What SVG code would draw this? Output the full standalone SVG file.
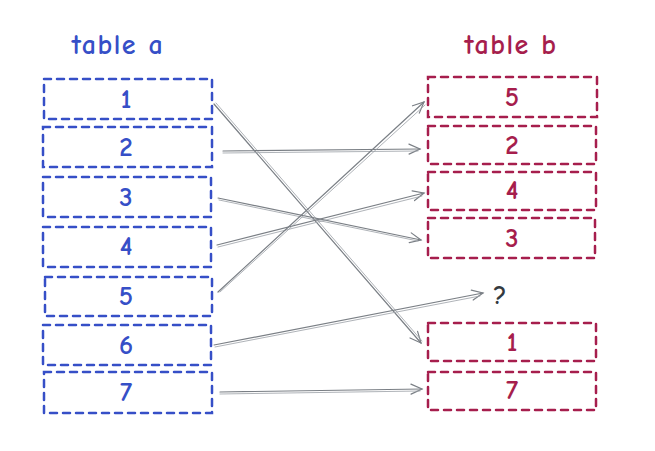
<svg xmlns="http://www.w3.org/2000/svg" width="655" height="451" viewBox="0 0 655 451">
<defs>
<style>
.ba{fill:none;stroke:#364fc7;stroke-width:2.5;stroke-dasharray:7 6;stroke-linecap:round}
.bb{fill:none;stroke:#a61e4d;stroke-width:2.5;stroke-dasharray:7 6;stroke-linecap:round}
.ta{fill:#364fc7;font-family:"Comic Neue","Liberation Sans",sans-serif;font-size:27px;font-weight:bold;text-anchor:middle}
.tb{fill:#a61e4d;font-family:"Comic Neue","Liberation Sans",sans-serif;font-size:27px;font-weight:bold;text-anchor:middle}
.h{font-size:28px;letter-spacing:1.5px}
.tq{fill:#343a40;font-family:"Comic Neue","Liberation Sans",sans-serif;font-size:26px;font-weight:bold;text-anchor:middle}
.ar{fill:none;stroke:#7a7f85;stroke-width:1.2;stroke-linecap:round;marker-end:url(#ah)}
.ar2{fill:none;stroke:#9aa0a6;stroke-width:0.8;stroke-linecap:round}
</style>
<marker id="ah" viewBox="-12 -6 14 12" refX="0" refY="0" markerWidth="14" markerHeight="12" markerUnits="userSpaceOnUse" orient="auto">
<path d="M-11,-5 L0,0 L-11,5" fill="none" stroke="#7a7f85" stroke-width="1.2" stroke-linecap="round"/>
</marker>
</defs>
<text class="ta h" x="118" y="54">table a</text>
<text class="tb h" x="511" y="54">table b</text>
<g id="a1"><rect class="ba" x="44" y="79" width="168" height="40"/><text class="ta" x="126" y="108">1</text></g>
<g id="a2"><rect class="ba" x="43" y="127" width="169" height="40"/><text class="ta" x="126" y="156">2</text></g>
<g id="a3"><rect class="ba" x="43" y="177" width="168" height="40"/><text class="ta" x="126" y="206">3</text></g>
<g id="a4"><rect class="ba" x="43" y="227" width="168" height="40"/><text class="ta" x="126" y="255">4</text></g>
<g id="a5"><rect class="ba" x="45" y="277" width="167" height="39"/><text class="ta" x="126" y="305">5</text></g>
<g id="a6"><rect class="ba" x="43" y="325" width="168" height="40"/><text class="ta" x="126" y="354">6</text></g>
<g id="a7"><rect class="ba" x="44" y="372" width="168" height="41"/><text class="ta" x="126" y="401">7</text></g>
<g id="b5"><rect class="bb" x="428" y="77" width="169" height="40"/><text class="tb" x="512" y="106">5</text></g>
<g id="b2"><rect class="bb" x="428" y="126" width="168" height="38"/><text class="tb" x="512" y="154">2</text></g>
<g id="b4"><rect class="bb" x="428" y="172" width="168" height="38"/><text class="tb" x="512" y="199">4</text></g>
<g id="b3"><rect class="bb" x="428" y="218" width="167" height="40"/><text class="tb" x="512" y="247">3</text></g>
<g id="b1"><rect class="bb" x="428" y="323" width="168" height="38"/><text class="tb" x="512" y="351">1</text></g>
<g id="b7"><rect class="bb" x="428" y="372" width="168" height="38"/><text class="tb" x="512" y="399">7</text></g>
<g id="q"><text class="tq" x="500" y="304">?</text></g>
<g id="connectors">
<path class="ar" d="M214,104 L421,343"/><path class="ar2" d="M216,103 L422,341"/>
<path class="ar" d="M223,151 L420,149"/><path class="ar2" d="M223,153 L418,151"/>
<path class="ar" d="M218,198 L421,240"/><path class="ar2" d="M219,200 L418,241"/>
<path class="ar" d="M217,245 L424,193"/><path class="ar2" d="M218,247 L422,196"/>
<path class="ar" d="M218,292 L424,102"/><path class="ar2" d="M220,292 L425,105"/>
<path class="ar" d="M214,345 L483,293"/><path class="ar2" d="M215,347 L480,296"/>
<path class="ar" d="M220,392 L422,389"/><path class="ar2" d="M220,394 L420,391"/>
</g>
</svg>
